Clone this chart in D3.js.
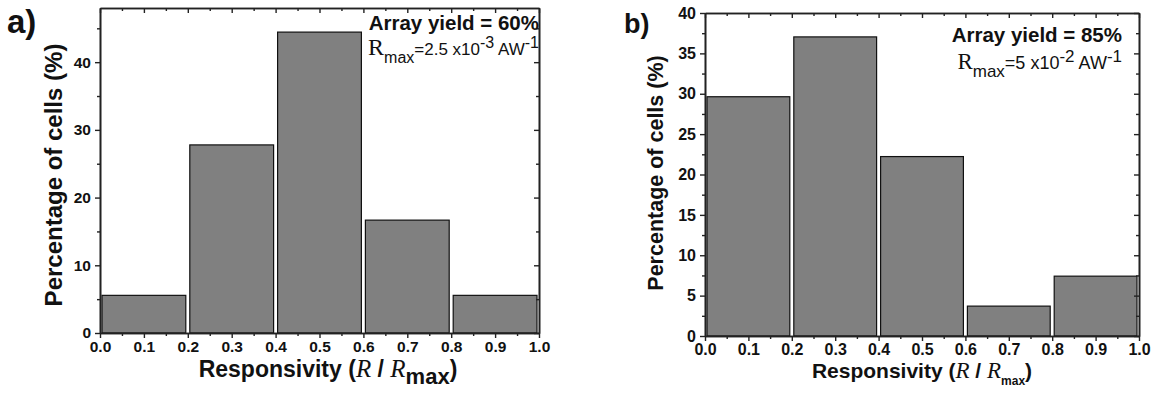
<!DOCTYPE html>
<html>
<head>
<meta charset="utf-8">
<script src="https://cdn.jsdelivr.net/npm/d3@7"></script>
<style>
  body { margin: 0; background: #fff; }
  svg { display: block; }
  text { font-family: "Liberation Sans", Arial, Helvetica, sans-serif; fill: #111; }
</style>
</head>
<body>
<div id="chart"></div>
<script>
// --- 1. DATA ---
const binStarts = [0.0, 0.2, 0.4, 0.6, 0.8];
const binWidth = 0.2;
const valuesA = [5.56, 27.78, 44.44, 16.67, 5.56];
const valuesB = [29.63, 37.04, 22.22, 3.70, 7.41];
const xTicks = [0.0, 0.1, 0.2, 0.3, 0.4, 0.5, 0.6, 0.7, 0.8, 0.9, 1.0];
const yTicksA = [0, 10, 20, 30, 40];
const yTicksB = [0, 5, 10, 15, 20, 25, 30, 35, 40];
const panelLabels = ["a)", "b)"];
const yieldLabels = ["Array yield = 60%", "Array yield = 85%"];
const rmaxValues = [["2.5 x10", "-3"], ["5 x10", "-2"]];

// --- 2. SETUP ---
const svg = d3.select("#chart").append("svg")
    .attr("width", 1154)
    .attr("height", 393);

function drawPanel(cfg) {
    const x = d3.scaleLinear().domain([0, 1]).range([cfg.left, cfg.right]);
    const y = d3.scaleLinear().domain([0, cfg.yMax]).range([cfg.bottom, cfg.top]);
    const g = svg.append("g");

    // bars
    g.selectAll("rect.bar")
        .data(cfg.values)
        .enter()
        .append("rect")
        .attr("class", "bar")
        .attr("x", (d, i) => x(binStarts[i]) + 2)
        .attr("y", d => y(d))
        .attr("width", (d, i) => x(binStarts[i] + binWidth) - x(binStarts[i]) - 4)
        .attr("height", d => y(0) - y(d))
        .attr("fill", "#808080")
        .attr("stroke", "#111")
        .attr("stroke-width", 1.2);

    // minor tick values
    const xMinor = d3.range(0.05, 1, 0.1);
    const yMinor = d3.range(cfg.yMinorStep, cfg.yMax, cfg.yMinorStep * 2);

    const styleAxis = sel => {
        sel.select(".domain").attr("stroke", "#222").attr("stroke-width", 1.6);
        sel.selectAll(".tick line").attr("stroke", "#222").attr("stroke-width", 1.4);
    };

    // bottom axis (outward)
    const bottom = g.append("g")
        .attr("transform", `translate(0,${cfg.bottom})`)
        .call(d3.axisBottom(x).tickValues(xTicks).tickFormat(d3.format(".1f"))
            .tickSizeInner(5).tickSizeOuter(0).tickPadding(3));
    bottom.call(styleAxis);
    bottom.selectAll("text")
        .style("font-size", cfg.tickFont + "px")
        .style("font-weight", "bold")
        .attr("fill", "#111");
    g.append("g")
        .attr("transform", `translate(0,${cfg.bottom})`)
        .call(d3.axisBottom(x).tickValues(xMinor).tickFormat("").tickSizeInner(3).tickSizeOuter(0))
        .call(styleAxis);

    // top axis (inward, no labels)
    g.append("g")
        .attr("transform", `translate(0,${cfg.top})`)
        .call(d3.axisBottom(x).tickValues(xTicks).tickFormat("").tickSizeInner(5).tickSizeOuter(0))
        .call(styleAxis);
    g.append("g")
        .attr("transform", `translate(0,${cfg.top})`)
        .call(d3.axisBottom(x).tickValues(xMinor).tickFormat("").tickSizeInner(3).tickSizeOuter(0))
        .call(styleAxis);

    // left axis (outward)
    const left = g.append("g")
        .attr("transform", `translate(${cfg.left},0)`)
        .call(d3.axisLeft(y).tickValues(cfg.yTicks).tickFormat(d3.format("d"))
            .tickSizeInner(5).tickSizeOuter(0).tickPadding(4));
    left.call(styleAxis);
    left.selectAll("text")
        .style("font-size", cfg.tickFont + "px")
        .style("font-weight", "bold")
        .attr("fill", "#111");
    g.append("g")
        .attr("transform", `translate(${cfg.left},0)`)
        .call(d3.axisLeft(y).tickValues(yMinor).tickFormat("").tickSizeInner(3).tickSizeOuter(0))
        .call(styleAxis);

    // right axis (inward, no labels)
    g.append("g")
        .attr("transform", `translate(${cfg.right},0)`)
        .call(d3.axisLeft(y).tickValues(cfg.yTicks).tickFormat("").tickSizeInner(5).tickSizeOuter(0))
        .call(styleAxis);
    g.append("g")
        .attr("transform", `translate(${cfg.right},0)`)
        .call(d3.axisLeft(y).tickValues(yMinor).tickFormat("").tickSizeInner(3).tickSizeOuter(0))
        .call(styleAxis);

    // panel label
    g.append("text")
        .attr("x", cfg.labelX)
        .attr("y", cfg.labelY)
        .style("font-size", cfg.labelFont + "px")
        .style("font-weight", "bold")
        .text(cfg.panel);

    // y axis title
    g.append("text")
        .attr("transform", `translate(${cfg.yTitleX},${cfg.yTitleY}) rotate(-90)`)
        .attr("text-anchor", "middle")
        .style("font-size", cfg.yTitleFont + "px")
        .style("font-weight", "bold")
        .text("Percentage of cells (%)");

    // x axis title
    const xt = g.append("text")
        .attr("x", cfg.xTitleX)
        .attr("y", cfg.xTitleY)
        .attr("text-anchor", "middle")
        .style("font-size", cfg.xTitleFont + "px")
        .style("font-weight", "bold");
    xt.append("tspan").text("Responsivity (");
    xt.append("tspan").style("font-family", "Liberation Serif, Times New Roman, serif")
        .style("font-style", "italic").style("font-weight", "normal")
        .style("font-size", (cfg.xTitleFont + 2) + "px").text("R");
    xt.append("tspan").text(" / ");
    xt.append("tspan").style("font-family", "Liberation Serif, Times New Roman, serif")
        .style("font-style", "italic").style("font-weight", "normal")
        .style("font-size", (cfg.xTitleFont + 2) + "px").text("R");
    xt.append("tspan").attr("dy", cfg.maxShift).style("font-size", cfg.maxFont + "px").text("max");
    xt.append("tspan").attr("dy", -cfg.maxShift).text(")");

    // annotations
    g.append("text")
        .attr("x", cfg.right - cfg.annoPad)
        .attr("y", cfg.yieldY)
        .attr("text-anchor", "end")
        .style("font-size", "20.5px")
        .style("font-weight", "bold")
        .text(cfg.yieldText);

    const rt = g.append("text")
        .attr("x", cfg.right - cfg.annoPad)
        .attr("y", cfg.rmaxY)
        .attr("text-anchor", "end")
        .style("font-size", cfg.rmaxFont + "px");
    rt.append("tspan").style("font-family", "Liberation Serif, Times New Roman, serif")
        .style("font-size", cfg.rFont + "px").text("R");
    rt.append("tspan").attr("dy", 8).style("font-size", (cfg.rmaxFont - 1) + "px").text("max");
    rt.append("tspan").attr("dy", -8).text("=" + cfg.rmax[0]);
    rt.append("tspan").attr("dy", -7).style("font-size", (cfg.rmaxFont - 1) + "px").text(cfg.rmax[1]);
    rt.append("tspan").attr("dy", 7).text(" AW");
    rt.append("tspan").attr("dy", -7).style("font-size", (cfg.rmaxFont - 1) + "px").text("-1");
}

drawPanel({
    left: 100, right: 539, top: 8, bottom: 333,
    yMax: 48, yTicks: yTicksA, yMinorStep: 5,
    values: valuesA, panel: panelLabels[0],
    labelX: 7, labelY: 33, labelFont: 33,
    yTitleX: 62, yTitleY: 175, yTitleFont: 24,
    xTitleX: 328, xTitleY: 377, xTitleFont: 23,
    tickFont: 15.5, maxFont: 22, maxShift: 7,
    yieldText: yieldLabels[0], yieldY: 30, rmaxY: 55, annoPad: 0,
    rmaxFont: 17, rFont: 24,
    rmax: rmaxValues[0]
});

drawPanel({
    left: 705, right: 1139, top: 13, bottom: 336,
    yMax: 40, yTicks: yTicksB, yMinorStep: 2.5,
    values: valuesB, panel: panelLabels[1],
    labelX: 624, labelY: 33, labelFont: 27,
    yTitleX: 663, yTitleY: 173, yTitleFont: 21.5,
    xTitleX: 922, xTitleY: 378, xTitleFont: 21,
    tickFont: 16, maxFont: 12, maxShift: 7,
    yieldText: yieldLabels[1], yieldY: 41.5, rmaxY: 69, annoPad: 17,
    rmaxFont: 18, rFont: 23,
    rmax: rmaxValues[1]
});
</script>
</body>
</html>
